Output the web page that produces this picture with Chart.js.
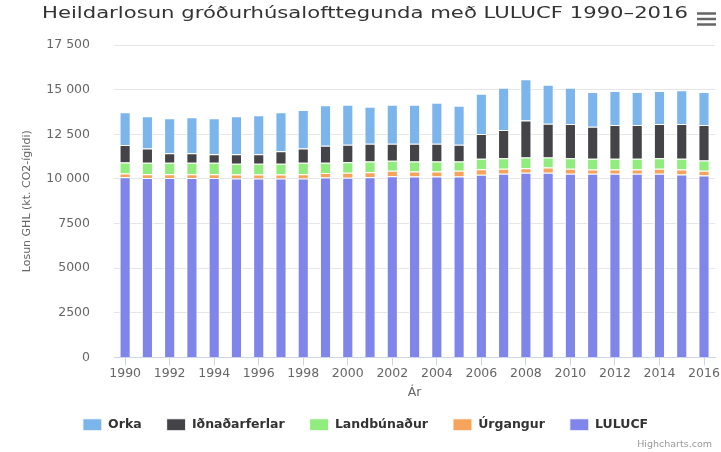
<!DOCTYPE html>
<html>
<head>
<meta charset="utf-8">
<script src="https://cdn.jsdelivr.net/npm/chart.js@4/dist/chart.umd.min.js"></script>
<style>
  html, body { margin: 0; padding: 0; background: #fff; }
  #wrap { width: 721px; height: 452px; }
</style>
</head>
<body>
<div id="wrap"><canvas id="myChart" width="721" height="452"></canvas></div>
<script>
const years = ['1990','1991','1992','1993','1994','1995','1996','1997','1998','1999',
  '2000','2001','2002','2003','2004','2005','2006','2007','2008','2009',
  '2010','2011','2012','2013','2014','2015','2016'];

// kt CO2-ígildi
const lulucf = [10095,10058,10058,10058,10058,10020,10020,10020,10020,10077,
  10070,10098,10154,10135,10135,10135,10229,10285,10341,10341,
  10285,10285,10285,10285,10285,10248,10192];
const urgangur = [207,206,206,206,206,225,225,225,244,262,
  270,281,299,281,281,318,318,281,262,299,
  281,243,243,243,281,280,261];
const landbunadur = [618,637,637,637,637,600,600,600,637,562,
  600,598,561,561,561,524,580,598,598,561,
  598,599,599,599,598,599,580];
const idnadarferlar = [974,805,543,543,487,543,543,711,805,955,
  975,991,954,991,991,935,1383,1571,2076,1889,
  1907,1795,1888,1888,1907,1944,1982];
const orka = [1835,1799,1948,2004,2004,2117,2172,2173,2154,2266,
  2245,2076,2188,2188,2300,2188,2263,2375,2300,2188,
  2039,1945,1908,1852,1852,1889,1852];

const yTicks = [0, 2500, 5000, 7500, 10000, 12500, 15000, 17500];

const titleText = 'Heildarlosun gróðurhúsalofttegunda með LULUCF 1990–2016';
const font = '"DejaVu Sans", Verdana, sans-serif';

function fmt(v) {
  if (v < 10000) return String(v);
  const s = String(v);
  return s.slice(0, s.length - 3) + ' ' + s.slice(-3);
}

// title, export menu and credits drawn like Highcharts does
const extras = {
  id: 'extras',
  afterDraw(chart) {
    const c = chart.ctx;
    c.save();
    c.font = '15px ' + font;
    c.fillStyle = '#333333';
    c.textBaseline = 'middle';
    c.textAlign = 'left';
    const w = c.measureText(titleText).width;
    const sx = 646 / w;
    c.translate(42, 14);
    c.scale(sx, 1);
    c.fillText(titleText, 0, 0);
    c.restore();

    c.save();
    c.strokeStyle = '#666666';
    c.lineWidth = 2.5;
    [13.5, 19, 24.5].forEach(y => {
      c.beginPath();
      c.moveTo(697, y);
      c.lineTo(716, y);
      c.stroke();
    });
    c.font = '9.5px ' + font;
    c.fillStyle = '#999999';
    c.textAlign = 'right';
    c.textBaseline = 'middle';
    c.fillText('Highcharts.com', 712, 445);
    c.restore();
  }
};

const ds = (label, data, color) => ({
  label, data,
  backgroundColor: color,
  borderColor: '#ffffff',
  borderWidth: 1,
  barPercentage: 0.5,
  categoryPercentage: 1
});

new Chart(document.getElementById('myChart'), {
  type: 'bar',
  data: {
    labels: years,
    datasets: [
      ds('LULUCF', lulucf, '#8085e9'),
      ds('Úrgangur', urgangur, '#f7a35c'),
      ds('Landbúnaður', landbunadur, '#90ed7d'),
      ds('Iðnaðarferlar', idnadarferlar, '#434348'),
      ds('Orka', orka, '#7cb5ec')
    ]
  },
  options: {
    responsive: false,
    animation: false,
    layout: { padding: { top: 45, left: 15, right: 5, bottom: 11 } },
    plugins: {
      title: { display: false },
      tooltip: { enabled: false },
      legend: {
        position: 'bottom',
        reverse: true,
        labels: {
          boxWidth: 19,
          boxHeight: 12,
          padding: 25,
          color: '#333333',
          font: { family: font, size: 12.5, weight: 'bold' }
        }
      }
    },
    scales: {
      x: {
        stacked: true,
        afterFit(scale) { scale.height = 36; },
        border: { color: '#ccd6eb' },
        grid: {
          offset: false,
          drawOnChartArea: false,
          tickLength: 8,
          color: ctx => (ctx.index % 2 === 0 ? '#ccd6eb' : 'rgba(0,0,0,0)')
        },
        ticks: {
          autoSkip: false,
          maxRotation: 0,
          padding: 1,
          color: '#666666',
          font: { family: font, size: 12.5 },
          callback(v, i) { return i % 2 === 0 ? years[i] : ''; }
        },
        title: {
          display: true,
          text: 'Ár',
          color: '#666666',
          padding: { top: 0, bottom: -7 },
          font: { family: font, size: 12.5 }
        }
      },
      y: {
        stacked: true,
        min: 0,
        max: 17500,
        afterFit(scale) { scale.width = 99; },
        afterBuildTicks(scale) { scale.ticks = yTicks.map(v => ({ value: v })); },
        border: { display: false },
        grid: { color: '#e6e6e6', drawTicks: false },
        ticks: {
          padding: 24,
          color: '#666666',
          font: { family: font, size: 12.5 },
          callback: v => fmt(v)
        },
        title: {
          display: true,
          text: 'Losun GHL (kt. CO2-ígildi)',
          color: '#666666',
          padding: { top: 6, bottom: 0 },
          font: { family: font, size: 11 }
        }
      }
    }
  },
  plugins: [extras]
});
</script>
</body>
</html>
